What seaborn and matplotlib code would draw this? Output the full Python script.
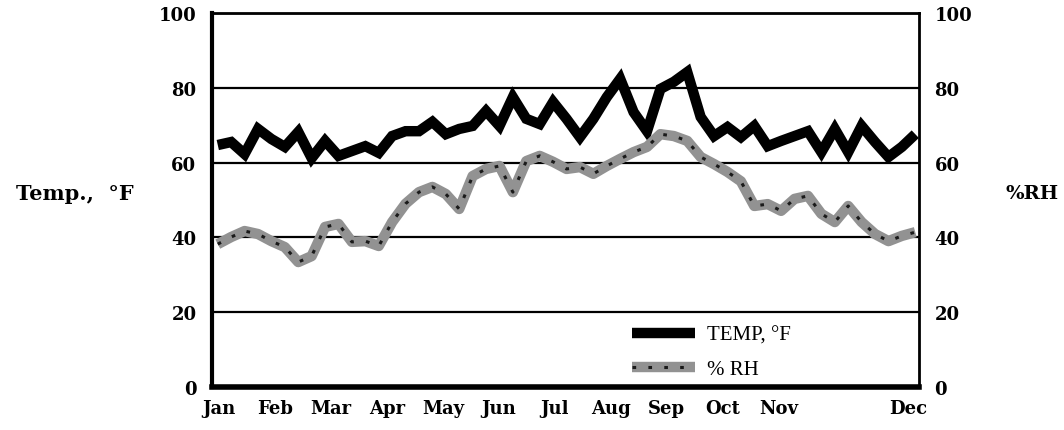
import numpy as np
import matplotlib
matplotlib.use("Agg")
import matplotlib.pyplot as plt
import seaborn as sns

# weekly readings, 53 weeks
week = np.arange(53)
temp_f = [64.7, 65.5, 62.3, 69.0, 66.3, 64.2, 68.2, 61.2, 65.8, 61.8,
          63.1, 64.4, 62.6, 67.1, 68.4, 68.4, 70.9, 67.6, 69.0, 69.8,
          73.8, 69.8, 77.5, 71.7, 70.3, 76.2, 71.7, 66.8, 71.7, 77.5,
          82.4, 73.5, 68.4, 79.7, 81.6, 84.2, 72.2, 67.1, 69.5, 66.8,
          69.8, 64.4, 65.8, 67.1, 68.4, 62.8, 69.0, 62.8, 69.8, 65.5,
          61.5, 64.2, 67.6]
rh_pct = [38.2, 40.1, 41.7, 40.9, 39.0, 37.4, 33.4, 35.0, 42.8, 43.6,
          38.8, 39.0, 37.7, 44.1, 49.0, 52.1, 53.5, 51.6, 47.6, 56.4,
          58.3, 59.1, 52.1, 60.4, 61.8, 60.2, 58.3, 58.8, 57.0, 59.1,
          61.0, 62.8, 64.2, 67.6, 67.1, 65.8, 61.5, 59.6, 57.5, 55.0,
          48.4, 48.9, 47.1, 50.3, 51.1, 46.3, 44.1, 48.4, 44.1, 40.9,
          39.0, 40.4, 41.4]
months = ['Jan', 'Feb', 'Mar', 'Apr', 'May', 'Jun', 'Jul', 'Aug',
          'Sep', 'Oct', 'Nov', 'Dec']
yticks = [0, 20, 40, 60, 80, 100]

sns.set_style("white")
plt.rcParams['font.family'] = ['DejaVu Serif']
for key in ['text.color', 'axes.labelcolor', 'xtick.color', 'ytick.color']:
    plt.rcParams[key] = 'black'

fig = plt.figure(figsize=(10.64, 4.31), dpi=100)
ax = fig.add_axes([0.199, 0.0998, 0.665, 0.8677])

# temperature
sns.lineplot(x=week, y=temp_f, ax=ax, color='black', lw=7.5,
             solid_joinstyle='miter', solid_capstyle='butt')
temp_line = ax.lines[-1]
# relative humidity: grey band with dark flecks
sns.lineplot(x=week, y=rh_pct, ax=ax, color='#929292', lw=7.5,
             solid_capstyle='butt')
rh_band = ax.lines[-1]
sns.lineplot(x=week, y=rh_pct, ax=ax, color='#1a1a1a', lw=2.2,
             linestyle=(0, (1.2, 4)))
rh_fleck = ax.lines[-1]

ax.set_xlim(-0.45, 52.3)
ax.set_ylim(0, 100)
ax.set_yticks(yticks)
ax.set_yticklabels([str(t) for t in yticks], fontsize=13, fontweight='bold')
tick_pos = list(np.arange(11) * 4.17 + 0.1) + [51.5]
ax.set_xticks(tick_pos)
ax.set_xticklabels(months, fontsize=13, fontweight='bold')
ax.tick_params(axis='both', length=0)
ax.tick_params(axis='y', pad=11)
ax.tick_params(axis='x', pad=9)
ax.yaxis.grid(True, color='black', lw=1.6)
ax.set_axisbelow(True)

for side, w in [('left', 3), ('bottom', 4), ('right', 2), ('top', 2)]:
    ax.spines[side].set_linewidth(w)
    ax.spines[side].set_color('black')

ax.set_ylabel('Temp.,  °F', rotation=0, fontsize=15, fontweight='bold',
              ha='center', va='center')
ax.yaxis.set_label_coords(-0.194, 0.52)
ax.set_xlabel('')

ax2 = ax.twinx()
ax2.set_ylim(0, 100)
ax2.set_yticks(yticks)
ax2.set_yticklabels([str(t) for t in yticks], fontsize=13, fontweight='bold')
ax2.tick_params(axis='y', length=0, pad=11)
for s in ax2.spines.values():
    s.set_visible(False)
ax2.set_ylabel('%RH', rotation=0, fontsize=14, fontweight='bold',
               ha='center', va='center')
ax2.yaxis.set_label_coords(1.16, 0.52)

ax.legend([temp_line, (rh_band, rh_fleck)], ['TEMP, °F', '% RH'],
          loc='upper left', bbox_to_anchor=(0.594, 0.165), frameon=False,
          borderpad=0, borderaxespad=0, handlelength=3.0, handletextpad=0.6,
          labelspacing=0.7, prop={'family': 'Liberation Serif', 'size': 15})

fig.savefig('out.png', dpi=100)
